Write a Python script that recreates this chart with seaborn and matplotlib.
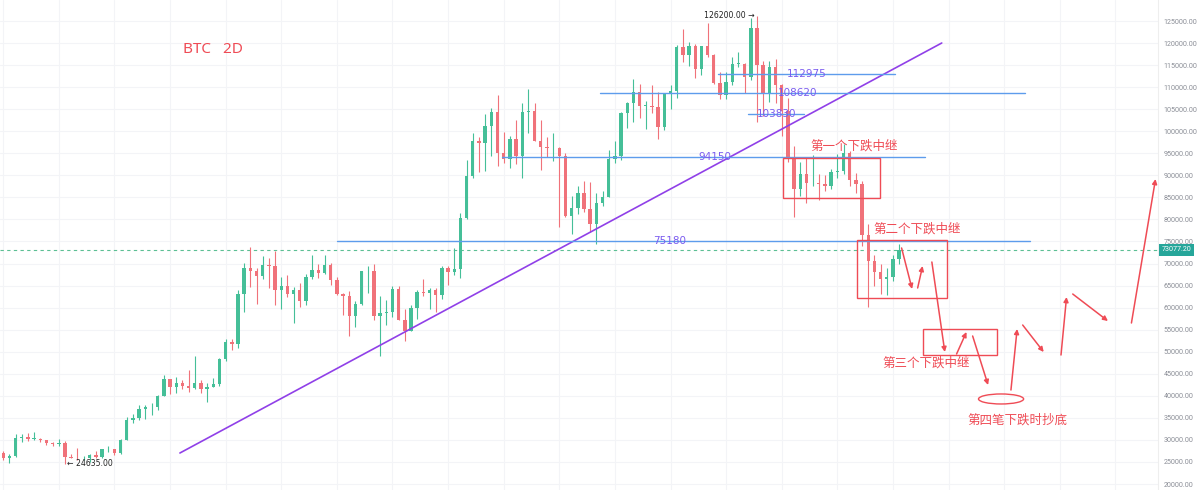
import numpy as np
import matplotlib
matplotlib.use("Agg")
import matplotlib.pyplot as plt
from matplotlib.patches import Rectangle, Ellipse
import seaborn as sns

# weekly candles (thousand USD), Jun 2023 -> Mar 2026
opens = [27.1, 25.8, 26.3, 30.5, 30.6, 30.3, 30.3, 29.9, 29.3, 29.0,
         29.4, 26.1, 26.0, 25.8, 25.8, 26.5, 26.2, 27.9, 27.9, 27.0,
         30.0, 34.5, 35.0, 37.0, 37.4, 37.4, 39.9, 43.8, 41.9, 43.0,
         42.3, 41.7, 42.8, 41.6, 42.0, 42.6, 48.3, 52.1, 51.7, 63.1,
         68.9, 68.4, 67.2, 69.6, 69.4, 63.9, 64.9, 63.1, 63.9, 61.5,
         66.9, 68.5, 67.8, 69.6, 66.2, 63.2, 62.7, 58.0, 60.8, 68.2,
         68.2, 58.1, 58.7, 58.9, 64.2, 57.3, 54.8, 60.0, 63.6, 63.3,
         63.9, 62.9, 69.0, 68.0, 68.7, 80.4, 89.9, 97.9, 97.3, 101.1,
         104.4, 95.1, 93.7, 98.3, 94.5, 104.4, 104.7, 97.7, 96.5, 96.1,
         96.3, 94.3, 80.7, 82.6, 86.1, 82.4, 79.0, 83.7, 85.1, 93.7,
         94.3, 104.1, 106.5, 109.0, 105.7, 105.7, 105.6, 100.9, 108.4, 109.2,
         119.1, 117.3, 119.4, 114.1, 119.3, 117.4, 111.0, 108.3, 111.1, 115.3,
         115.3, 112.2, 123.5, 115.1, 108.7, 114.5, 110.5, 104.7, 94.2, 86.8,
         90.4, 88.2, 88.3, 88.0, 87.6, 90.7, 91.0, 95.0, 89.0, 88.0,
         76.5, 70.5, 68.0, 66.5, 67.0, 71.0]
highs = [27.4, 26.8, 31.4, 31.3, 31.5, 31.8, 30.4, 29.9, 29.5, 30.2,
         29.7, 26.8, 28.1, 26.4, 26.9, 27.4, 28.0, 28.6, 27.9, 30.3,
         35.2, 35.9, 37.9, 37.9, 38.4, 40.2, 44.7, 43.8, 44.3, 43.6,
         45.9, 49.0, 43.6, 42.8, 44.0, 48.6, 52.8, 52.9, 64.0, 70.1,
         73.8, 68.9, 71.7, 71.3, 72.8, 66.9, 67.4, 64.7, 65.5, 67.7,
         71.9, 70.0, 71.9, 70.2, 66.9, 63.4, 63.8, 61.4, 68.4, 69.4,
         70.0, 62.7, 61.8, 65.0, 64.8, 59.8, 60.6, 64.1, 66.5, 64.5,
         64.4, 69.4, 69.5, 73.6, 81.5, 93.5, 99.6, 98.7, 104.0, 105.2,
         108.3, 99.9, 99.0, 102.5, 106.4, 109.6, 106.5, 102.5, 98.8, 99.5,
         96.5, 95.0, 85.3, 87.5, 88.8, 88.5, 86.1, 86.5, 95.8, 97.9,
         104.3, 106.7, 111.9, 110.7, 106.8, 110.5, 108.9, 108.5, 110.5, 119.5,
         123.2, 120.2, 119.8, 119.3, 124.5, 117.6, 113.4, 113.4, 116.8, 117.9,
         115.4, 125.7, 126.2, 116.0, 116.0, 116.4, 110.8, 107.5, 96.6, 93.1,
         94.2, 94.6, 90.4, 90.0, 91.5, 94.8, 97.0, 95.5, 90.5, 88.8,
         79.0, 72.0, 70.0, 69.0, 72.0, 74.5]
lows = [25.4, 24.8, 26.2, 29.5, 29.7, 29.9, 29.6, 28.9, 28.6, 28.7,
        24.6, 25.8, 25.4, 25.4, 24.9, 26.0, 26.0, 27.2, 26.6, 26.9,
        29.9, 33.9, 34.5, 34.8, 35.6, 36.8, 39.9, 40.5, 40.6, 41.5,
        40.8, 41.5, 40.6, 38.5, 41.9, 42.3, 48.0, 50.5, 50.9, 59.0,
        64.6, 60.8, 66.4, 64.5, 60.7, 59.6, 62.4, 56.5, 60.2, 60.6,
        66.6, 66.7, 67.6, 65.1, 62.9, 58.4, 53.5, 55.7, 60.6, 63.4,
        57.2, 49.0, 56.1, 57.8, 57.2, 52.5, 54.6, 57.5, 62.7, 59.8,
        58.9, 62.0, 65.1, 67.5, 66.8, 80.2, 89.4, 90.8, 91.0, 94.3,
        92.2, 92.9, 91.6, 92.5, 89.3, 99.5, 97.7, 91.2, 94.1, 93.3,
        78.2, 80.5, 76.6, 81.3, 81.6, 77.1, 74.4, 83.1, 85.1, 92.8,
        93.4, 100.7, 102.0, 103.1, 100.4, 104.1, 98.2, 100.2, 105.1, 107.5,
        115.7, 114.7, 112.0, 112.7, 116.8, 110.7, 107.3, 107.3, 110.6, 114.5,
        108.6, 111.6, 102.0, 103.5, 106.7, 106.3, 98.9, 93.0, 80.6, 85.3,
        83.8, 87.6, 84.4, 86.5, 86.9, 89.5, 90.2, 87.5, 86.0, 74.0,
        60.1, 65.0, 63.0, 62.8, 66.0, 70.0]
closes = [25.8, 26.3, 30.5, 30.6, 30.3, 30.3, 29.9, 29.3, 29.0, 29.4,
          26.1, 26.0, 25.8, 25.8, 26.5, 26.2, 27.9, 27.9, 27.0, 30.0,
          34.5, 35.0, 37.0, 37.4, 37.4, 39.9, 43.8, 41.9, 43.0, 42.3,
          41.7, 42.8, 41.6, 42.0, 42.6, 48.3, 52.1, 51.7, 63.1, 68.9,
          68.4, 67.2, 69.6, 69.4, 63.9, 64.9, 63.1, 63.9, 61.5, 66.9,
          68.5, 67.8, 69.6, 66.2, 63.2, 62.7, 58.0, 60.8, 68.2, 68.2,
          58.1, 58.7, 58.9, 64.2, 57.3, 54.8, 60.0, 63.6, 63.3, 63.9,
          62.9, 69.0, 68.0, 68.7, 80.4, 89.9, 97.9, 97.3, 101.1, 104.4,
          95.1, 93.7, 98.3, 94.5, 104.4, 104.7, 97.7, 96.5, 96.1, 96.3,
          94.3, 80.7, 82.6, 86.1, 82.4, 79.0, 83.7, 85.1, 93.7, 94.3,
          104.1, 106.5, 109.0, 105.7, 105.7, 105.6, 100.9, 108.4, 109.2, 119.1,
          117.3, 119.4, 114.1, 119.3, 117.4, 111.0, 108.3, 111.1, 115.3, 115.3,
          112.2, 123.5, 115.1, 108.7, 114.5, 110.5, 104.7, 94.2, 86.8, 90.4,
          88.2, 88.3, 88.0, 87.6, 90.7, 91.0, 95.0, 89.0, 88.0, 76.5,
          70.5, 68.0, 66.5, 67.0, 71.0, 73.1]

last_price = 73077.20
ath_price = 126200.00
low_price = 24635.00

# horizontal levels: value, start bar, end bar, label bar
levels = [75180, 94150, 108620, 112975, 103830]
level_start = [54.0, 80.7, 96.6, 115.7, 120.5]
level_end = [166.2, 149.2, 165.3, 144.3, 129.6]
level_label_x = [107.9, 115.2, 128.6, 130.1, 125.1]

# trend line (bar, price)
trend_x = [28.6, 151.9]
trend_y = [27040, 120010]

# consolidation boxes: bar0, bar1, price0, price1
boxes = [(126.2, 141.9, 84860, 93930),
         (138.2, 152.7, 62190, 75340),
         (148.8, 160.8, 49260, 55160)]
box_labels = ["第一个下跌中继", "第二个下跌中继", "第三个下跌中继", "第四笔下跌时抄底"]
box_label_x = [137.8, 148.0, 149.3, 164.2]
box_label_y = [96660, 77830, 47450, 34520]

# projected path arrows: (bar0, price0, bar1, price1)
path_arrows = [(145.4, 73530, 147.1, 64230),
               (148.0, 64460, 148.8, 69440),
               (150.3, 70350, 152.4, 49940),
               (154.3, 49490, 155.9, 54480),
               (156.9, 53570, 159.4, 42460),
               (163.1, 41320, 164.1, 55160),
               (165.0, 56060, 168.4, 49940),
               (171.2, 49260, 172.1, 62410),
               (173.1, 63090, 178.8, 56970),
               (182.6, 56520, 186.5, 89170)]
bottom_zone = (161.5, 39290, 7.3, 2270)

o = np.array(opens) * 1000
h = np.array(highs) * 1000
l = np.array(lows) * 1000
c = np.array(closes) * 1000
x = np.arange(len(c))

up_col = "#45bf98"
down_col = "#f0727a"
red = "#ef4b55"
level_col = "#5d9cec"
level_txt = "#7b5cf0"

sns.set_theme(style="white")
plt.rcParams['font.family'] = ['Noto Sans CJK SC', 'DejaVu Sans']

fig = plt.figure(figsize=(11.99, 4.90), dpi=100)
ax = fig.add_axes([0, 0, 1158 / 1199, 1])
ax.set_xlim(-0.52, 186.9)
ax.set_ylim(18650, 129762)

# faint grid
ticks = np.arange(20000, 126000, 5000)
ax.set_yticks(ticks)
ax.set_xticks(np.arange(0, 187, 9))
ax.grid(True, color="#f3f4f7", lw=0.8)
ax.set_axisbelow(True)
ax.tick_params(axis="x", length=0, labelbottom=False)
ax.yaxis.tick_right()
ax.tick_params(axis="y", length=0, pad=4, labelsize=5.1, labelcolor="#8a8d96")
ax.set_yticklabels([f"{v:.2f}" for v in ticks], family="Roboto")
for s in ["top", "left", "bottom"]:
    ax.spines[s].set_visible(False)
ax.spines["right"].set_color("#eeeeee")
ax.spines["right"].set_linewidth(0.8)

# candles
colors = np.where(c >= o, up_col, down_col)
ax.vlines(x, l, h, colors=colors, lw=0.8, zorder=2)
ax.bar(x, np.maximum(np.abs(c - o), 150), bottom=np.minimum(o, c), width=0.55,
       color=colors, linewidth=0, zorder=3)

# trend line
sns.lineplot(x=trend_x, y=trend_y, ax=ax, color="#9040e8", lw=1.2, zorder=4)

# horizontal levels
for v, x0, x1, lx in zip(levels, level_start, level_end, level_label_x):
    sns.lineplot(x=[x0, x1], y=[v, v], ax=ax, color=level_col, lw=1.0, zorder=4)
    ax.text(lx, v, str(v), color=level_txt, fontsize=7.5, ha="center",
            va="center", family="DejaVu Sans", zorder=5)

# current price
ax.axhline(last_price, color="#5cbf94", lw=0.8, ls=(0, (3, 3)), zorder=1)
ax.annotate(f"{last_price:.2f}", xy=(1.0, last_price),
            xycoords=("axes fraction", "data"), xytext=(2.5, 0),
            textcoords="offset points", ha="left", va="center",
            fontsize=5.1, color="white", family="Roboto",
            bbox=dict(boxstyle="square,pad=0.4", fc="#26a69a", ec="none"),
            annotation_clip=False)

# high / low markers
ax.text(x[int(np.argmax(h))] - 0.4, ath_price, f"{ath_price:.2f} →",
        fontsize=5.6, ha="right", va="center", color="#222222", family="DejaVu Sans")
ax.text(x[int(np.argmin(l))] + 0.3, low_price, f"← {low_price:.2f}",
        fontsize=5.6, ha="left", va="center", color="#222222", family="DejaVu Sans")

# title
ax.text(29.1, 118520, "BTC   2D", color=red, fontsize=11, ha="left",
        va="center", family="Noto Sans")

# boxes
for b0, b1, p0, p1 in boxes:
    ax.add_patch(Rectangle((b0, p0), b1 - b0, p1 - p0, fill=False,
                           ec=red, lw=1.0, zorder=6))
ax.add_patch(Ellipse(bottom_zone[:2], bottom_zone[2], bottom_zone[3],
                     fill=False, ec=red, lw=1.0, zorder=6))
for t, tx, ty in zip(box_labels, box_label_x, box_label_y):
    ax.text(tx, ty, t, color=red, fontsize=9, ha="center", va="center", zorder=7)

# projected path
for a0, p0, a1, p1 in path_arrows:
    ax.annotate("", xy=(a1, p1), xytext=(a0, p0),
                arrowprops=dict(arrowstyle="-|>", color=red, lw=1.1,
                                mutation_scale=7, shrinkA=0, shrinkB=0),
                zorder=7)

fig.savefig("out.png", dpi=100)
